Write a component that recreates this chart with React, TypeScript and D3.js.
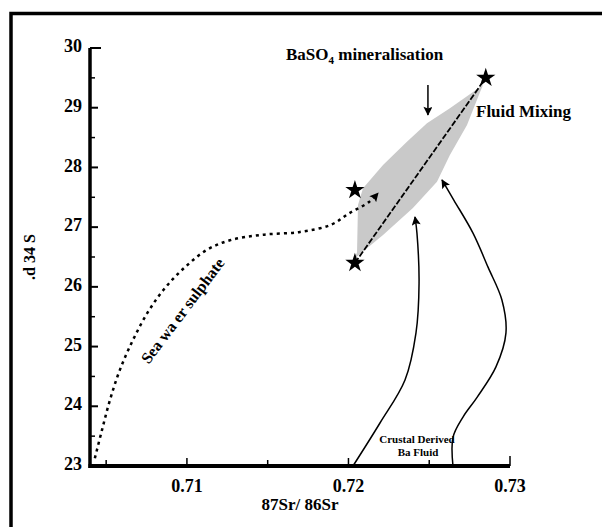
import React from "react";
import { scaleLinear, line, curveCatmullRom, curveLinearClosed, symbol, symbolStar } from "d3";

// axis ticks
const xTicks = [0.71, 0.72, 0.73];
const xMinor = [0.705, 0.715, 0.725];
const yTicks = [23, 24, 25, 26, 27, 28, 29, 30];
const yMinor = [23.5, 24.5, 25.5, 26.5, 27.5, 28.5, 29.5];

// end members (stars)
const stars: [number, number][] = [
  [0.7285, 29.5],
  [0.7204, 27.62],
  [0.7204, 26.4],
];

// fluid mixing line
const mixLine: [number, number][] = [
  [0.7204, 26.4],
  [0.7285, 29.5],
];

// shaded mixing field
const mixField: [number, number][] = [
  [0.72833, 29.38],
  [0.72628, 28.99],
  [0.72486, 28.74],
  [0.72362, 28.43],
  [0.72214, 28.04],
  [0.7209, 27.65],
  [0.72059, 27.37],
  [0.72053, 26.58],
  [0.7204, 26.48],
  [0.72214, 26.87],
  [0.72399, 27.32],
  [0.72548, 27.76],
  [0.72628, 28.21],
  [0.72734, 28.71],
  [0.72814, 29.26],
];

// seawater sulphate trend (dotted)
const seawater: [number, number][] = [
  [0.7043, 23.13],
  [0.70474, 23.6],
  [0.70523, 24.1],
  [0.70585, 24.61],
  [0.70666, 25.11],
  [0.70759, 25.58],
  [0.70864, 25.98],
  [0.70988, 26.33],
  [0.71124, 26.62],
  [0.71266, 26.78],
  [0.71458, 26.87],
  [0.717, 26.92],
  [0.71892, 27.04],
  [0.72009, 27.24],
  [0.72127, 27.42],
  [0.72183, 27.57],
];

// crustal derived Ba fluid paths
const crustal1: [number, number][] = [
  [0.72028, 23.0],
  [0.72195, 23.72],
  [0.7235, 24.44],
  [0.72418, 25.23],
  [0.72437, 26.06],
  [0.72424, 26.9],
  [0.72412, 27.17],
];
const crustal2: [number, number][] = [
  [0.72647, 23.0],
  [0.72647, 23.48],
  [0.72709, 23.82],
  [0.72796, 24.15],
  [0.72913, 24.66],
  [0.72975, 25.23],
  [0.7295, 25.78],
  [0.72864, 26.33],
  [0.72771, 26.9],
  [0.72653, 27.45],
  [0.72579, 27.79],
];

// BaSO4 arrow
const downArrow: [number, number][] = [
  [0.72492, 29.38],
  [0.72492, 28.88],
];

const W = 602;
const H = 527;
const font = "'Liberation Serif', 'Times New Roman', serif";

export default function App() {
  const x = scaleLinear().domain([0.704, 0.73]).range([90, 510]);
  const y = scaleLinear().domain([23, 30]).range([466, 48]);

  const smooth = line<[number, number]>()
    .x((d) => x(d[0]))
    .y((d) => y(d[1]))
    .curve(curveCatmullRom.alpha(0.5));
  const straight = line<[number, number]>()
    .x((d) => x(d[0]))
    .y((d) => y(d[1]));
  const field = line<[number, number]>()
    .x((d) => x(d[0]))
    .y((d) => y(d[1]))
    .curve(curveLinearClosed);
  const star = symbol(symbolStar, 115)();

  return (
    <svg width={W} height={H} style={{ position: "absolute", left: 0, top: 0, background: "#fff" }}>
      <defs>
        <marker
          id="head"
          viewBox="0 0 10 10"
          refX="9"
          refY="5"
          markerUnits="userSpaceOnUse"
          markerWidth="10"
          markerHeight="9"
          orient="auto"
        >
          <path d="M0,0 L10,5 L0,10 L2,5 z" fill="#000" />
        </marker>
      </defs>

      {/* frame */}
      <rect x={11} y={13.5} width={640} height={560} fill="none" stroke="#000" strokeWidth={3.5} />

      {/* shaded field */}
      <path d={field(mixField) || ""} fill="#c9c9c9" stroke="none" />

      {/* axes */}
      <line x1={x(0.704)} x2={x(0.704)} y1={y(30)} y2={y(23) + 2} stroke="#000" strokeWidth={3.5} />
      <line x1={x(0.704) - 1.5} x2={x(0.73)} y1={y(23)} y2={y(23)} stroke="#000" strokeWidth={4} />
      {yTicks.map((t) => (
        <g key={"y" + t}>
          <line x1={x(0.704)} x2={x(0.704) + (t === 30 ? 11 : 8)} y1={y(t)} y2={y(t)} stroke="#000" strokeWidth={2} />
          <text
            x={82}
            y={y(t)}
            textAnchor="end"
            dominantBaseline="middle"
            fontFamily={font}
            fontWeight="bold"
            fontSize={18}
          >
            {t}
          </text>
        </g>
      ))}
      {yMinor.map((t) => (
        <line key={"ym" + t} x1={x(0.704)} x2={x(0.704) + 5} y1={y(t)} y2={y(t)} stroke="#000" strokeWidth={1.5} />
      ))}
      {xTicks.map((t) => (
        <g key={"x" + t}>
          <line x1={x(t)} x2={x(t)} y1={y(23)} y2={y(23) - (t === 0.73 ? 10 : 8)} stroke="#000" strokeWidth={1.5} />
          <text x={x(t)} y={492} textAnchor="middle" fontFamily={font} fontWeight="bold" fontSize={18}>
            {t}
          </text>
        </g>
      ))}
      {xMinor.map((t) => (
        <line key={"xm" + t} x1={x(t)} x2={x(t)} y1={y(23)} y2={y(23) - 6} stroke="#000" strokeWidth={1.5} />
      ))}
      <text x={300} y={510} textAnchor="middle" fontFamily={font} fontWeight="bold" fontSize={17}>
        87Sr/ 86Sr
      </text>
      <text
        transform="translate(35,257) rotate(-90)"
        textAnchor="middle"
        fontFamily={font}
        fontWeight="bold"
        fontSize={16}
      >
        .d 34 S
      </text>

      {/* seawater sulphate */}
      <path
        d={smooth(seawater) || ""}
        fill="none"
        stroke="#000"
        strokeWidth={2.5}
        strokeDasharray="3 4"
        markerEnd="url(#head)"
      />
      <text
        transform="translate(187,314) rotate(-53)"
        textAnchor="middle"
        fontFamily={font}
        fontWeight="bold"
        fontSize={16}
      >
        Sea wa er sulphate
      </text>

      {/* crustal fluids */}
      <path d={smooth(crustal1) || ""} fill="none" stroke="#000" strokeWidth={1.5} markerEnd="url(#head)" />
      <path d={smooth(crustal2) || ""} fill="none" stroke="#000" strokeWidth={1.5} markerEnd="url(#head)" />
      <text x={417} y={443} textAnchor="middle" fontFamily={font} fontWeight="bold" fontSize={11}>
        Crustal Derived
      </text>
      <text x={418} y={456} textAnchor="middle" fontFamily={font} fontWeight="bold" fontSize={11}>
        Ba Fluid
      </text>

      {/* mixing line */}
      <path d={straight(mixLine) || ""} fill="none" stroke="#000" strokeWidth={1.8} strokeDasharray="6 2" />

      {/* BaSO4 arrow */}
      <path d={straight(downArrow) || ""} fill="none" stroke="#000" strokeWidth={1.5} markerEnd="url(#head)" />
      <text x={286} y={60} fontFamily={font} fontWeight="bold" fontSize={17}>
        BaSO
        <tspan fontSize={11} dy={4}>
          4
        </tspan>
        <tspan dy={-4}> mineralisation</tspan>
      </text>
      <text x={476} y={117} fontFamily={font} fontWeight="bold" fontSize={17}>
        Fluid Mixing
      </text>

      {/* stars */}
      {stars.map((s, i) => (
        <path key={"s" + i} d={star || ""} transform={`translate(${x(s[0])},${y(s[1])})`} fill="#000" />
      ))}
    </svg>
  );
}
